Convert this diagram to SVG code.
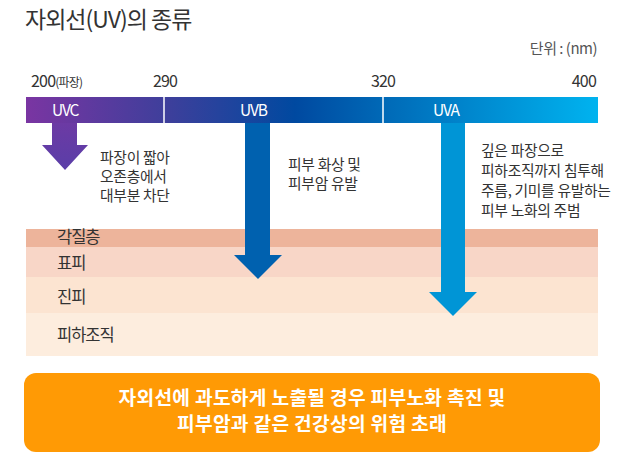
<svg xmlns="http://www.w3.org/2000/svg" width="628" height="460" viewBox="0 0 628 460">
<defs>
<linearGradient id="barGrad" x1="26" y1="0" x2="598" y2="0" gradientUnits="userSpaceOnUse">
<stop offset="0" stop-color="#7A35A2"/>
<stop offset="0.25" stop-color="#3D3F9B"/>
<stop offset="0.47" stop-color="#0049A0"/>
<stop offset="0.62" stop-color="#0068B6"/>
<stop offset="1" stop-color="#00B3EF"/>
</linearGradient>
<linearGradient id="uvcGrad" x1="0" y1="123" x2="0" y2="170" gradientUnits="userSpaceOnUse">
<stop offset="0" stop-color="#6C3AA4"/>
<stop offset="1" stop-color="#5A3EA8"/>
</linearGradient>
<style>
text { font-family: "Noto Sans CJK KR", "Noto Sans", sans-serif; }
.title { font-size: 23px; fill: #333333; letter-spacing: -1px; }
.unit { font-size: 15px; fill: #555555; letter-spacing: -0.5px; }
.tick { font-size: 16px; fill: #333333; letter-spacing: -0.8px; }
.tick-sm { font-size: 12px; letter-spacing: -0.8px; }
.band-label { font-size: 15.5px; fill: #FFFFFF; letter-spacing: -1.2px; }
.desc { font-size: 14.8px; fill: #333333; letter-spacing: -0.3px; }
.layer-label { font-size: 16.5px; fill: #333333; letter-spacing: -1px; }
.summary { font-size: 19.2px; font-weight: 700; fill: #FFFFFF; letter-spacing: 0.3px; }
.divider { stroke: #FFFFFF; stroke-width: 1.5; }
</style>
</defs>
<rect width="628" height="460" fill="#FFFFFF"/>

<g id="title">
<text class="title" x="25" y="28">자외선(UV)의 종류</text>
</g>
<g id="unit">
<text class="unit" x="597" y="54" text-anchor="end">단위 : (nm)</text>
</g>

<g id="scale">
<text class="tick" x="31" y="87">200<tspan class="tick-sm">(파장)</tspan></text>
<text class="tick" x="165" y="87" text-anchor="middle">290</text>
<text class="tick" x="383" y="87" text-anchor="middle">320</text>
<text class="tick" x="596" y="87" text-anchor="end">400</text>
</g>

<g id="skin-layers">
<rect x="26" y="229" width="572" height="18" fill="#EDB49B"/>
<rect x="26" y="247" width="572" height="30" fill="#F8D6C7"/>
<rect x="26" y="277" width="572" height="36" fill="#FCE4D1"/>
<rect x="26" y="313" width="572" height="43" fill="#FDEDDE"/>
<text class="layer-label" x="57" y="243">각질층</text>
<text class="layer-label" x="57" y="269">표피</text>
<text class="layer-label" x="57" y="303">진피</text>
<text class="layer-label" x="57" y="341">피하조직</text>
</g>

<g id="uv-bar">
<rect x="26" y="97" width="572" height="26" fill="url(#barGrad)"/>
<line class="divider" x1="164" y1="97" x2="164" y2="123"/>
<line class="divider" x1="383" y1="97" x2="383" y2="123"/>
</g>
<g id="uvc">
<text class="band-label" x="52" y="116">UVC</text>
</g>
<g id="uvb">
<text class="band-label" x="240" y="116">UVB</text>
</g>
<g id="uva">
<text class="band-label" x="433" y="116">UVA</text>
</g>

<g id="connectors">
<polygon fill="url(#uvcGrad)" points="52,123 77,123 77,145 88,145 65,170 42,145 52,145"/>
<polygon fill="#0061AF" points="245,123 270,123 270,255 282,255 258,279 234,255 245,255"/>
<polygon fill="#0095D6" points="441,123 465,123 465,292 477,292 453,316 429,292 441,292"/>
</g>

<g id="uvc-desc">
<text class="desc" x="100" y="163">파장이 짧아</text>
<text class="desc" x="100" y="182">오존층에서</text>
<text class="desc" x="100" y="201">대부분 차단</text>
</g>
<g id="uvb-desc">
<text class="desc" x="288" y="170">피부 화상 및</text>
<text class="desc" x="288" y="189">피부암 유발</text>
</g>
<g id="uva-desc">
<text class="desc" x="481" y="156">깊은 파장으로</text>
<text class="desc" x="481" y="176">피하조직까지 침투해</text>
<text class="desc" x="481" y="196">주름, 기미를 유발하는</text>
<text class="desc" x="481" y="216">피부 노화의 주범</text>
</g>

<g id="summary">
<rect x="24" y="373" width="576" height="79" rx="12" ry="12" fill="#FF9A05"/>
<text class="summary" x="312" y="405" text-anchor="middle">자외선에 과도하게 노출될 경우 피부노화 촉진 및</text>
<text class="summary" x="312" y="431" text-anchor="middle">피부암과 같은 건강상의 위험 초래</text>
</g>
</svg>
